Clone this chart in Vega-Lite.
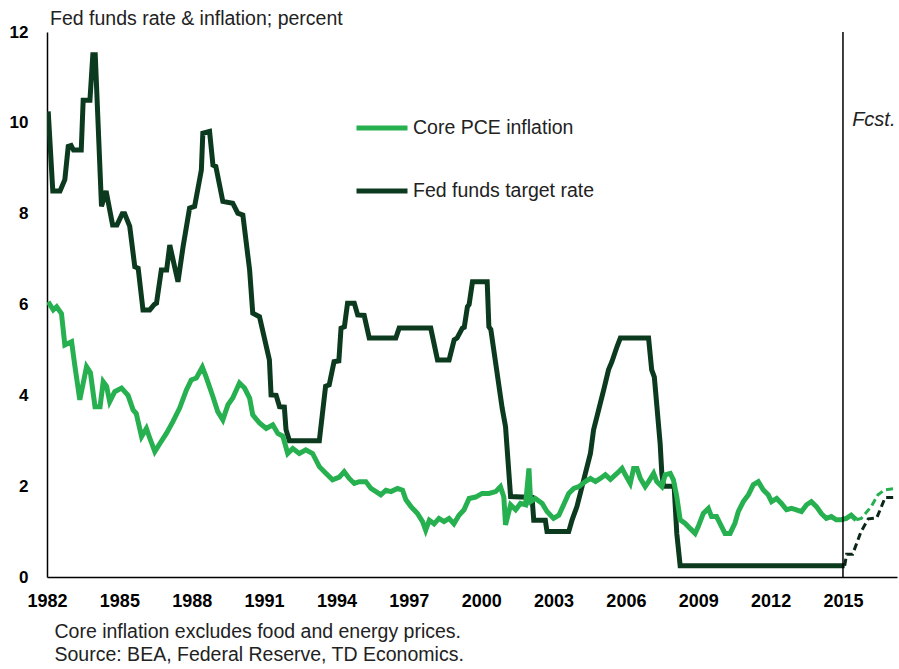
{
  "$schema": "https://vega.github.io/schema/vega-lite/v6.json",
  "width": 850,
  "height": 545,
  "autosize": {"type": "none"},
  "padding": {"left": 47, "top": 32, "right": 2, "bottom": 92},
  "background": "#ffffff",
  "title": {
    "text": "Fed funds rate & inflation; percent",
    "anchor": "start",
    "frame": "group",
    "fontSize": 19.5,
    "fontWeight": "normal",
    "font": "Liberation Sans",
    "color": "#222222",
    "offset": 5,
    "dx": 3,
    "dy": 11
  },
  "datasets": {
    "rates": [
      {"d": 1982.05, "v": 10.25, "s": "Fed funds target rate", "part": "actual"},
      {"d": 1982.24, "v": 8.5, "s": "Fed funds target rate", "part": "actual"},
      {"d": 1982.54, "v": 8.5, "s": "Fed funds target rate", "part": "actual"},
      {"d": 1982.74, "v": 8.75, "s": "Fed funds target rate", "part": "actual"},
      {"d": 1982.88, "v": 9.48, "s": "Fed funds target rate", "part": "actual"},
      {"d": 1983.0, "v": 9.5, "s": "Fed funds target rate", "part": "actual"},
      {"d": 1983.1, "v": 9.4, "s": "Fed funds target rate", "part": "actual"},
      {"d": 1983.42, "v": 9.4, "s": "Fed funds target rate", "part": "actual"},
      {"d": 1983.5, "v": 10.5, "s": "Fed funds target rate", "part": "actual"},
      {"d": 1983.78, "v": 10.5, "s": "Fed funds target rate", "part": "actual"},
      {"d": 1983.9, "v": 11.5, "s": "Fed funds target rate", "part": "actual"},
      {"d": 1984.0, "v": 11.5, "s": "Fed funds target rate", "part": "actual"},
      {"d": 1984.26, "v": 8.16, "s": "Fed funds target rate", "part": "actual"},
      {"d": 1984.45, "v": 8.5, "s": "Fed funds target rate", "part": "actual"},
      {"d": 1984.72, "v": 7.75, "s": "Fed funds target rate", "part": "actual"},
      {"d": 1984.9, "v": 7.75, "s": "Fed funds target rate", "part": "actual"},
      {"d": 1985.12, "v": 8.0, "s": "Fed funds target rate", "part": "actual"},
      {"d": 1985.22, "v": 8.0, "s": "Fed funds target rate", "part": "actual"},
      {"d": 1985.43, "v": 7.72, "s": "Fed funds target rate", "part": "actual"},
      {"d": 1985.64, "v": 6.83, "s": "Fed funds target rate", "part": "actual"},
      {"d": 1985.78, "v": 6.8, "s": "Fed funds target rate", "part": "actual"},
      {"d": 1985.98, "v": 5.88, "s": "Fed funds target rate", "part": "actual"},
      {"d": 1986.26, "v": 5.88, "s": "Fed funds target rate", "part": "actual"},
      {"d": 1986.45, "v": 6.0, "s": "Fed funds target rate", "part": "actual"},
      {"d": 1986.54, "v": 6.03, "s": "Fed funds target rate", "part": "actual"},
      {"d": 1986.74, "v": 6.76, "s": "Fed funds target rate", "part": "actual"},
      {"d": 1986.96, "v": 6.76, "s": "Fed funds target rate", "part": "actual"},
      {"d": 1987.09, "v": 7.31, "s": "Fed funds target rate", "part": "actual"},
      {"d": 1987.43, "v": 6.5, "s": "Fed funds target rate", "part": "actual"},
      {"d": 1987.64, "v": 7.27, "s": "Fed funds target rate", "part": "actual"},
      {"d": 1987.91, "v": 8.12, "s": "Fed funds target rate", "part": "actual"},
      {"d": 1988.12, "v": 8.16, "s": "Fed funds target rate", "part": "actual"},
      {"d": 1988.4, "v": 8.96, "s": "Fed funds target rate", "part": "actual"},
      {"d": 1988.46, "v": 9.77, "s": "Fed funds target rate", "part": "actual"},
      {"d": 1988.74, "v": 9.81, "s": "Fed funds target rate", "part": "actual"},
      {"d": 1988.88, "v": 9.07, "s": "Fed funds target rate", "part": "actual"},
      {"d": 1989.0, "v": 9.04, "s": "Fed funds target rate", "part": "actual"},
      {"d": 1989.29, "v": 8.27, "s": "Fed funds target rate", "part": "actual"},
      {"d": 1989.7, "v": 8.23, "s": "Fed funds target rate", "part": "actual"},
      {"d": 1989.91, "v": 8.01, "s": "Fed funds target rate", "part": "actual"},
      {"d": 1990.12, "v": 7.97, "s": "Fed funds target rate", "part": "actual"},
      {"d": 1990.4, "v": 6.76, "s": "Fed funds target rate", "part": "actual"},
      {"d": 1990.53, "v": 5.81, "s": "Fed funds target rate", "part": "actual"},
      {"d": 1990.81, "v": 5.73, "s": "Fed funds target rate", "part": "actual"},
      {"d": 1991.22, "v": 4.78, "s": "Fed funds target rate", "part": "actual"},
      {"d": 1991.29, "v": 4.01, "s": "Fed funds target rate", "part": "actual"},
      {"d": 1991.5, "v": 4.0, "s": "Fed funds target rate", "part": "actual"},
      {"d": 1991.64, "v": 3.75, "s": "Fed funds target rate", "part": "actual"},
      {"d": 1991.84, "v": 3.74, "s": "Fed funds target rate", "part": "actual"},
      {"d": 1991.91, "v": 3.24, "s": "Fed funds target rate", "part": "actual"},
      {"d": 1992.05, "v": 3.0, "s": "Fed funds target rate", "part": "actual"},
      {"d": 1993.29, "v": 3.0, "s": "Fed funds target rate", "part": "actual"},
      {"d": 1993.55, "v": 4.2, "s": "Fed funds target rate", "part": "actual"},
      {"d": 1993.7, "v": 4.23, "s": "Fed funds target rate", "part": "actual"},
      {"d": 1993.9, "v": 4.74, "s": "Fed funds target rate", "part": "actual"},
      {"d": 1994.1, "v": 4.76, "s": "Fed funds target rate", "part": "actual"},
      {"d": 1994.19, "v": 5.48, "s": "Fed funds target rate", "part": "actual"},
      {"d": 1994.33, "v": 5.51, "s": "Fed funds target rate", "part": "actual"},
      {"d": 1994.46, "v": 6.03, "s": "Fed funds target rate", "part": "actual"},
      {"d": 1994.74, "v": 6.03, "s": "Fed funds target rate", "part": "actual"},
      {"d": 1994.88, "v": 5.77, "s": "Fed funds target rate", "part": "actual"},
      {"d": 1995.15, "v": 5.76, "s": "Fed funds target rate", "part": "actual"},
      {"d": 1995.36, "v": 5.26, "s": "Fed funds target rate", "part": "actual"},
      {"d": 1996.46, "v": 5.26, "s": "Fed funds target rate", "part": "actual"},
      {"d": 1996.6, "v": 5.48, "s": "Fed funds target rate", "part": "actual"},
      {"d": 1997.91, "v": 5.48, "s": "Fed funds target rate", "part": "actual"},
      {"d": 1998.19, "v": 4.78, "s": "Fed funds target rate", "part": "actual"},
      {"d": 1998.67, "v": 4.78, "s": "Fed funds target rate", "part": "actual"},
      {"d": 1998.88, "v": 5.22, "s": "Fed funds target rate", "part": "actual"},
      {"d": 1999.0, "v": 5.26, "s": "Fed funds target rate", "part": "actual"},
      {"d": 1999.22, "v": 5.48, "s": "Fed funds target rate", "part": "actual"},
      {"d": 1999.3, "v": 5.5, "s": "Fed funds target rate", "part": "actual"},
      {"d": 1999.43, "v": 5.95, "s": "Fed funds target rate", "part": "actual"},
      {"d": 1999.5, "v": 6.0, "s": "Fed funds target rate", "part": "actual"},
      {"d": 1999.64, "v": 6.5, "s": "Fed funds target rate", "part": "actual"},
      {"d": 2000.25, "v": 6.5, "s": "Fed funds target rate", "part": "actual"},
      {"d": 2000.32, "v": 5.51, "s": "Fed funds target rate", "part": "actual"},
      {"d": 2000.4, "v": 5.45, "s": "Fed funds target rate", "part": "actual"},
      {"d": 2000.87, "v": 3.72, "s": "Fed funds target rate", "part": "actual"},
      {"d": 2001.01, "v": 3.31, "s": "Fed funds target rate", "part": "actual"},
      {"d": 2001.22, "v": 1.77, "s": "Fed funds target rate", "part": "actual"},
      {"d": 2002.11, "v": 1.75, "s": "Fed funds target rate", "part": "actual"},
      {"d": 2002.18, "v": 1.25, "s": "Fed funds target rate", "part": "actual"},
      {"d": 2002.66, "v": 1.25, "s": "Fed funds target rate", "part": "actual"},
      {"d": 2002.73, "v": 1.0, "s": "Fed funds target rate", "part": "actual"},
      {"d": 2003.63, "v": 1.0, "s": "Fed funds target rate", "part": "actual"},
      {"d": 2003.77, "v": 1.26, "s": "Fed funds target rate", "part": "actual"},
      {"d": 2003.97, "v": 1.55, "s": "Fed funds target rate", "part": "actual"},
      {"d": 2004.11, "v": 1.84, "s": "Fed funds target rate", "part": "actual"},
      {"d": 2004.32, "v": 2.28, "s": "Fed funds target rate", "part": "actual"},
      {"d": 2004.53, "v": 2.72, "s": "Fed funds target rate", "part": "actual"},
      {"d": 2004.66, "v": 3.24, "s": "Fed funds target rate", "part": "actual"},
      {"d": 2004.87, "v": 3.68, "s": "Fed funds target rate", "part": "actual"},
      {"d": 2005.08, "v": 4.12, "s": "Fed funds target rate", "part": "actual"},
      {"d": 2005.28, "v": 4.56, "s": "Fed funds target rate", "part": "actual"},
      {"d": 2005.42, "v": 4.74, "s": "Fed funds target rate", "part": "actual"},
      {"d": 2005.63, "v": 5.07, "s": "Fed funds target rate", "part": "actual"},
      {"d": 2005.77, "v": 5.26, "s": "Fed funds target rate", "part": "actual"},
      {"d": 2006.94, "v": 5.26, "s": "Fed funds target rate", "part": "actual"},
      {"d": 2007.07, "v": 4.56, "s": "Fed funds target rate", "part": "actual"},
      {"d": 2007.18, "v": 4.4, "s": "Fed funds target rate", "part": "actual"},
      {"d": 2007.42, "v": 2.94, "s": "Fed funds target rate", "part": "actual"},
      {"d": 2007.49, "v": 2.28, "s": "Fed funds target rate", "part": "actual"},
      {"d": 2007.56, "v": 2.0, "s": "Fed funds target rate", "part": "actual"},
      {"d": 2008.0, "v": 2.0, "s": "Fed funds target rate", "part": "actual"},
      {"d": 2008.11, "v": 0.96, "s": "Fed funds target rate", "part": "actual"},
      {"d": 2008.25, "v": 0.25, "s": "Fed funds target rate", "part": "actual"},
      {"d": 2015.07, "v": 0.25, "s": "Fed funds target rate", "part": "actual"},
      {"d": 2015.07, "v": 0.25, "s": "Fed funds target rate", "part": "forecast"},
      {"d": 2015.15, "v": 0.5, "s": "Fed funds target rate", "part": "forecast"},
      {"d": 2015.4, "v": 0.5, "s": "Fed funds target rate", "part": "forecast"},
      {"d": 2015.75, "v": 1.0, "s": "Fed funds target rate", "part": "forecast"},
      {"d": 2016.05, "v": 1.28, "s": "Fed funds target rate", "part": "forecast"},
      {"d": 2016.4, "v": 1.3, "s": "Fed funds target rate", "part": "forecast"},
      {"d": 2016.75, "v": 1.75, "s": "Fed funds target rate", "part": "forecast"},
      {"d": 2017.24, "v": 1.75, "s": "Fed funds target rate", "part": "forecast"},
      {"d": 1982.05, "v": 6.06, "s": "Core PCE inflation", "part": "actual"},
      {"d": 1982.26, "v": 5.88, "s": "Core PCE inflation", "part": "actual"},
      {"d": 1982.4, "v": 5.95, "s": "Core PCE inflation", "part": "actual"},
      {"d": 1982.6, "v": 5.8, "s": "Core PCE inflation", "part": "actual"},
      {"d": 1982.74, "v": 5.11, "s": "Core PCE inflation", "part": "actual"},
      {"d": 1983.02, "v": 5.18, "s": "Core PCE inflation", "part": "actual"},
      {"d": 1983.16, "v": 4.63, "s": "Core PCE inflation", "part": "actual"},
      {"d": 1983.36, "v": 3.9, "s": "Core PCE inflation", "part": "actual"},
      {"d": 1983.64, "v": 4.63, "s": "Core PCE inflation", "part": "actual"},
      {"d": 1983.8, "v": 4.5, "s": "Core PCE inflation", "part": "actual"},
      {"d": 1983.99, "v": 3.75, "s": "Core PCE inflation", "part": "actual"},
      {"d": 1984.2, "v": 3.75, "s": "Core PCE inflation", "part": "actual"},
      {"d": 1984.33, "v": 4.3, "s": "Core PCE inflation", "part": "actual"},
      {"d": 1984.47, "v": 4.2, "s": "Core PCE inflation", "part": "actual"},
      {"d": 1984.6, "v": 3.86, "s": "Core PCE inflation", "part": "actual"},
      {"d": 1984.81, "v": 4.08, "s": "Core PCE inflation", "part": "actual"},
      {"d": 1985.09, "v": 4.16, "s": "Core PCE inflation", "part": "actual"},
      {"d": 1985.36, "v": 4.0, "s": "Core PCE inflation", "part": "actual"},
      {"d": 1985.57, "v": 3.68, "s": "Core PCE inflation", "part": "actual"},
      {"d": 1985.7, "v": 3.6, "s": "Core PCE inflation", "part": "actual"},
      {"d": 1985.92, "v": 3.09, "s": "Core PCE inflation", "part": "actual"},
      {"d": 1986.12, "v": 3.27, "s": "Core PCE inflation", "part": "actual"},
      {"d": 1986.26, "v": 3.06, "s": "Core PCE inflation", "part": "actual"},
      {"d": 1986.47, "v": 2.76, "s": "Core PCE inflation", "part": "actual"},
      {"d": 1986.68, "v": 2.94, "s": "Core PCE inflation", "part": "actual"},
      {"d": 1986.95, "v": 3.16, "s": "Core PCE inflation", "part": "actual"},
      {"d": 1987.22, "v": 3.42, "s": "Core PCE inflation", "part": "actual"},
      {"d": 1987.5, "v": 3.72, "s": "Core PCE inflation", "part": "actual"},
      {"d": 1987.78, "v": 4.12, "s": "Core PCE inflation", "part": "actual"},
      {"d": 1987.98, "v": 4.34, "s": "Core PCE inflation", "part": "actual"},
      {"d": 1988.19, "v": 4.38, "s": "Core PCE inflation", "part": "actual"},
      {"d": 1988.44, "v": 4.62, "s": "Core PCE inflation", "part": "actual"},
      {"d": 1988.6, "v": 4.4, "s": "Core PCE inflation", "part": "actual"},
      {"d": 1988.88, "v": 3.97, "s": "Core PCE inflation", "part": "actual"},
      {"d": 1989.08, "v": 3.64, "s": "Core PCE inflation", "part": "actual"},
      {"d": 1989.29, "v": 3.46, "s": "Core PCE inflation", "part": "actual"},
      {"d": 1989.5, "v": 3.79, "s": "Core PCE inflation", "part": "actual"},
      {"d": 1989.7, "v": 3.94, "s": "Core PCE inflation", "part": "actual"},
      {"d": 1989.98, "v": 4.27, "s": "Core PCE inflation", "part": "actual"},
      {"d": 1990.19, "v": 4.16, "s": "Core PCE inflation", "part": "actual"},
      {"d": 1990.4, "v": 3.94, "s": "Core PCE inflation", "part": "actual"},
      {"d": 1990.53, "v": 3.57, "s": "Core PCE inflation", "part": "actual"},
      {"d": 1990.81, "v": 3.39, "s": "Core PCE inflation", "part": "actual"},
      {"d": 1991.09, "v": 3.27, "s": "Core PCE inflation", "part": "actual"},
      {"d": 1991.36, "v": 3.35, "s": "Core PCE inflation", "part": "actual"},
      {"d": 1991.57, "v": 3.16, "s": "Core PCE inflation", "part": "actual"},
      {"d": 1991.78, "v": 3.1, "s": "Core PCE inflation", "part": "actual"},
      {"d": 1991.98, "v": 2.72, "s": "Core PCE inflation", "part": "actual"},
      {"d": 1992.19, "v": 2.83, "s": "Core PCE inflation", "part": "actual"},
      {"d": 1992.46, "v": 2.72, "s": "Core PCE inflation", "part": "actual"},
      {"d": 1992.73, "v": 2.8, "s": "Core PCE inflation", "part": "actual"},
      {"d": 1993.01, "v": 2.72, "s": "Core PCE inflation", "part": "actual"},
      {"d": 1993.29, "v": 2.43, "s": "Core PCE inflation", "part": "actual"},
      {"d": 1993.57, "v": 2.28, "s": "Core PCE inflation", "part": "actual"},
      {"d": 1993.84, "v": 2.14, "s": "Core PCE inflation", "part": "actual"},
      {"d": 1994.12, "v": 2.2, "s": "Core PCE inflation", "part": "actual"},
      {"d": 1994.32, "v": 2.32, "s": "Core PCE inflation", "part": "actual"},
      {"d": 1994.53, "v": 2.17, "s": "Core PCE inflation", "part": "actual"},
      {"d": 1994.74, "v": 2.06, "s": "Core PCE inflation", "part": "actual"},
      {"d": 1994.95, "v": 2.1, "s": "Core PCE inflation", "part": "actual"},
      {"d": 1995.22, "v": 2.1, "s": "Core PCE inflation", "part": "actual"},
      {"d": 1995.43, "v": 1.95, "s": "Core PCE inflation", "part": "actual"},
      {"d": 1995.64, "v": 1.88, "s": "Core PCE inflation", "part": "actual"},
      {"d": 1995.84, "v": 1.81, "s": "Core PCE inflation", "part": "actual"},
      {"d": 1996.05, "v": 1.91, "s": "Core PCE inflation", "part": "actual"},
      {"d": 1996.26, "v": 1.88, "s": "Core PCE inflation", "part": "actual"},
      {"d": 1996.53, "v": 1.95, "s": "Core PCE inflation", "part": "actual"},
      {"d": 1996.74, "v": 1.91, "s": "Core PCE inflation", "part": "actual"},
      {"d": 1996.88, "v": 1.7, "s": "Core PCE inflation", "part": "actual"},
      {"d": 1997.09, "v": 1.55, "s": "Core PCE inflation", "part": "actual"},
      {"d": 1997.36, "v": 1.4, "s": "Core PCE inflation", "part": "actual"},
      {"d": 1997.57, "v": 1.22, "s": "Core PCE inflation", "part": "actual"},
      {"d": 1997.7, "v": 1.03, "s": "Core PCE inflation", "part": "actual"},
      {"d": 1997.85, "v": 1.25, "s": "Core PCE inflation", "part": "actual"},
      {"d": 1998.05, "v": 1.17, "s": "Core PCE inflation", "part": "actual"},
      {"d": 1998.25, "v": 1.29, "s": "Core PCE inflation", "part": "actual"},
      {"d": 1998.46, "v": 1.22, "s": "Core PCE inflation", "part": "actual"},
      {"d": 1998.67, "v": 1.29, "s": "Core PCE inflation", "part": "actual"},
      {"d": 1998.87, "v": 1.17, "s": "Core PCE inflation", "part": "actual"},
      {"d": 1999.08, "v": 1.36, "s": "Core PCE inflation", "part": "actual"},
      {"d": 1999.29, "v": 1.48, "s": "Core PCE inflation", "part": "actual"},
      {"d": 1999.5, "v": 1.73, "s": "Core PCE inflation", "part": "actual"},
      {"d": 1999.77, "v": 1.76, "s": "Core PCE inflation", "part": "actual"},
      {"d": 2000.04, "v": 1.84, "s": "Core PCE inflation", "part": "actual"},
      {"d": 2000.32, "v": 1.84, "s": "Core PCE inflation", "part": "actual"},
      {"d": 2000.6, "v": 1.88, "s": "Core PCE inflation", "part": "actual"},
      {"d": 2000.8, "v": 1.99, "s": "Core PCE inflation", "part": "actual"},
      {"d": 2000.94, "v": 1.76, "s": "Core PCE inflation", "part": "actual"},
      {"d": 2001.01, "v": 1.15, "s": "Core PCE inflation", "part": "actual"},
      {"d": 2001.22, "v": 1.59, "s": "Core PCE inflation", "part": "actual"},
      {"d": 2001.43, "v": 1.48, "s": "Core PCE inflation", "part": "actual"},
      {"d": 2001.63, "v": 1.62, "s": "Core PCE inflation", "part": "actual"},
      {"d": 2001.84, "v": 1.59, "s": "Core PCE inflation", "part": "actual"},
      {"d": 2001.98, "v": 2.39, "s": "Core PCE inflation", "part": "actual"},
      {"d": 2002.05, "v": 1.66, "s": "Core PCE inflation", "part": "actual"},
      {"d": 2002.25, "v": 1.73, "s": "Core PCE inflation", "part": "actual"},
      {"d": 2002.53, "v": 1.62, "s": "Core PCE inflation", "part": "actual"},
      {"d": 2002.73, "v": 1.44, "s": "Core PCE inflation", "part": "actual"},
      {"d": 2003.0, "v": 1.29, "s": "Core PCE inflation", "part": "actual"},
      {"d": 2003.22, "v": 1.36, "s": "Core PCE inflation", "part": "actual"},
      {"d": 2003.42, "v": 1.59, "s": "Core PCE inflation", "part": "actual"},
      {"d": 2003.63, "v": 1.84, "s": "Core PCE inflation", "part": "actual"},
      {"d": 2003.84, "v": 1.95, "s": "Core PCE inflation", "part": "actual"},
      {"d": 2004.05, "v": 1.99, "s": "Core PCE inflation", "part": "actual"},
      {"d": 2004.32, "v": 2.1, "s": "Core PCE inflation", "part": "actual"},
      {"d": 2004.53, "v": 2.17, "s": "Core PCE inflation", "part": "actual"},
      {"d": 2004.74, "v": 2.1, "s": "Core PCE inflation", "part": "actual"},
      {"d": 2004.94, "v": 2.17, "s": "Core PCE inflation", "part": "actual"},
      {"d": 2005.15, "v": 2.25, "s": "Core PCE inflation", "part": "actual"},
      {"d": 2005.36, "v": 2.15, "s": "Core PCE inflation", "part": "actual"},
      {"d": 2005.63, "v": 2.28, "s": "Core PCE inflation", "part": "actual"},
      {"d": 2005.84, "v": 2.39, "s": "Core PCE inflation", "part": "actual"},
      {"d": 2005.98, "v": 2.25, "s": "Core PCE inflation", "part": "actual"},
      {"d": 2006.18, "v": 2.06, "s": "Core PCE inflation", "part": "actual"},
      {"d": 2006.32, "v": 2.39, "s": "Core PCE inflation", "part": "actual"},
      {"d": 2006.46, "v": 2.39, "s": "Core PCE inflation", "part": "actual"},
      {"d": 2006.6, "v": 2.17, "s": "Core PCE inflation", "part": "actual"},
      {"d": 2006.8, "v": 1.99, "s": "Core PCE inflation", "part": "actual"},
      {"d": 2006.94, "v": 2.1, "s": "Core PCE inflation", "part": "actual"},
      {"d": 2007.15, "v": 2.28, "s": "Core PCE inflation", "part": "actual"},
      {"d": 2007.28, "v": 2.1, "s": "Core PCE inflation", "part": "actual"},
      {"d": 2007.49, "v": 1.99, "s": "Core PCE inflation", "part": "actual"},
      {"d": 2007.63, "v": 2.25, "s": "Core PCE inflation", "part": "actual"},
      {"d": 2007.84, "v": 2.28, "s": "Core PCE inflation", "part": "actual"},
      {"d": 2007.97, "v": 2.14, "s": "Core PCE inflation", "part": "actual"},
      {"d": 2008.11, "v": 1.77, "s": "Core PCE inflation", "part": "actual"},
      {"d": 2008.25, "v": 1.26, "s": "Core PCE inflation", "part": "actual"},
      {"d": 2008.46, "v": 1.18, "s": "Core PCE inflation", "part": "actual"},
      {"d": 2008.66, "v": 1.07, "s": "Core PCE inflation", "part": "actual"},
      {"d": 2008.87, "v": 0.96, "s": "Core PCE inflation", "part": "actual"},
      {"d": 2009.0, "v": 1.11, "s": "Core PCE inflation", "part": "actual"},
      {"d": 2009.21, "v": 1.4, "s": "Core PCE inflation", "part": "actual"},
      {"d": 2009.42, "v": 1.51, "s": "Core PCE inflation", "part": "actual"},
      {"d": 2009.55, "v": 1.33, "s": "Core PCE inflation", "part": "actual"},
      {"d": 2009.76, "v": 1.33, "s": "Core PCE inflation", "part": "actual"},
      {"d": 2009.9, "v": 1.18, "s": "Core PCE inflation", "part": "actual"},
      {"d": 2010.11, "v": 0.96, "s": "Core PCE inflation", "part": "actual"},
      {"d": 2010.32, "v": 0.96, "s": "Core PCE inflation", "part": "actual"},
      {"d": 2010.52, "v": 1.18, "s": "Core PCE inflation", "part": "actual"},
      {"d": 2010.66, "v": 1.44, "s": "Core PCE inflation", "part": "actual"},
      {"d": 2010.87, "v": 1.66, "s": "Core PCE inflation", "part": "actual"},
      {"d": 2011.08, "v": 1.81, "s": "Core PCE inflation", "part": "actual"},
      {"d": 2011.28, "v": 2.03, "s": "Core PCE inflation", "part": "actual"},
      {"d": 2011.49, "v": 2.1, "s": "Core PCE inflation", "part": "actual"},
      {"d": 2011.69, "v": 1.92, "s": "Core PCE inflation", "part": "actual"},
      {"d": 2011.9, "v": 1.81, "s": "Core PCE inflation", "part": "actual"},
      {"d": 2012.04, "v": 1.66, "s": "Core PCE inflation", "part": "actual"},
      {"d": 2012.25, "v": 1.73, "s": "Core PCE inflation", "part": "actual"},
      {"d": 2012.45, "v": 1.62, "s": "Core PCE inflation", "part": "actual"},
      {"d": 2012.66, "v": 1.48, "s": "Core PCE inflation", "part": "actual"},
      {"d": 2012.87, "v": 1.51, "s": "Core PCE inflation", "part": "actual"},
      {"d": 2013.07, "v": 1.48, "s": "Core PCE inflation", "part": "actual"},
      {"d": 2013.28, "v": 1.44, "s": "Core PCE inflation", "part": "actual"},
      {"d": 2013.49, "v": 1.59, "s": "Core PCE inflation", "part": "actual"},
      {"d": 2013.69, "v": 1.66, "s": "Core PCE inflation", "part": "actual"},
      {"d": 2013.9, "v": 1.55, "s": "Core PCE inflation", "part": "actual"},
      {"d": 2014.1, "v": 1.4, "s": "Core PCE inflation", "part": "actual"},
      {"d": 2014.31, "v": 1.29, "s": "Core PCE inflation", "part": "actual"},
      {"d": 2014.52, "v": 1.33, "s": "Core PCE inflation", "part": "actual"},
      {"d": 2014.72, "v": 1.26, "s": "Core PCE inflation", "part": "actual"},
      {"d": 2014.93, "v": 1.26, "s": "Core PCE inflation", "part": "actual"},
      {"d": 2015.14, "v": 1.29, "s": "Core PCE inflation", "part": "actual"},
      {"d": 2015.34, "v": 1.36, "s": "Core PCE inflation", "part": "actual"},
      {"d": 2015.55, "v": 1.26, "s": "Core PCE inflation", "part": "actual"},
      {"d": 2015.55, "v": 1.26, "s": "Core PCE inflation", "part": "forecast"},
      {"d": 2015.76, "v": 1.29, "s": "Core PCE inflation", "part": "forecast"},
      {"d": 2016.17, "v": 1.55, "s": "Core PCE inflation", "part": "forecast"},
      {"d": 2016.45, "v": 1.81, "s": "Core PCE inflation", "part": "forecast"},
      {"d": 2016.73, "v": 1.92, "s": "Core PCE inflation", "part": "forecast"},
      {"d": 2017.2, "v": 1.95, "s": "Core PCE inflation", "part": "forecast"}
    ],
    "marker": [{"d": 2015, "label": "Fcst.", "v": 10.07, "labelAt": 2015.38}]
  },
  "layer": [
    {
      "data": {"name": "rates"},
      "transform": [{"filter": "datum.part === 'actual'"}],
      "mark": {"type": "line", "strokeWidth": 5, "clip": true},
      "encoding": {
        "x": {
          "field": "d",
          "type": "quantitative",
          "scale": {"domain": [1982, 2017.24], "nice": false, "zero": false},
          "axis": {
            "values": [1982, 1985, 1988, 1991, 1994, 1997, 2000, 2003, 2006, 2009, 2012, 2015],
            "format": "d",
            "labelFlush": false,
            "title": ["Core inflation excludes food and energy prices.", "Source: BEA, Federal Reserve, TD Economics."]
          }
        },
        "y": {
          "field": "v",
          "type": "quantitative",
          "scale": {"domain": [0, 12], "nice": false},
          "axis": {"values": [0, 2, 4, 6, 8, 10, 12], "title": null}
        },
        "color": {
          "field": "s",
          "type": "nominal",
          "scale": {"domain": ["Core PCE inflation", "Fed funds target rate"], "range": ["#26b04f", "#0c3a1e"]},
          "legend": {
            "orient": "none",
            "legendX": 307,
            "legendY": 68,
            "title": null,
            "symbolType": "stroke",
            "symbolSize": 2601,
            "symbolStrokeWidth": 5,
            "labelFontSize": 19.5,
            "labelFont": "Liberation Sans",
            "labelColor": "#222222",
            "labelOffset": 3,
            "labelLimit": 400,
            "rowPadding": 25,
            "padding": 0
          }
        }
      }
    },
    {
      "data": {"name": "rates"},
      "transform": [{"filter": "datum.part === 'forecast' && datum.s === 'Core PCE inflation'"}],
      "mark": {"type": "line", "strokeWidth": 3, "strokeDash": [7, 4], "color": "#26b04f"},
      "encoding": {
        "x": {"field": "d", "type": "quantitative"},
        "y": {"field": "v", "type": "quantitative"}
      }
    },
    {
      "data": {"name": "rates"},
      "transform": [{"filter": "datum.part === 'forecast' && datum.s === 'Fed funds target rate'"}],
      "mark": {"type": "line", "strokeWidth": 3, "strokeDash": [7, 4], "color": "#0a2616"},
      "encoding": {
        "x": {"field": "d", "type": "quantitative"},
        "y": {"field": "v", "type": "quantitative"}
      }
    },
    {
      "data": {"name": "marker"},
      "mark": {"type": "rule", "color": "#000000", "strokeWidth": 1.5},
      "encoding": {
        "x": {"field": "d", "type": "quantitative"}
      }
    },
    {
      "data": {"name": "marker"},
      "mark": {"type": "text", "align": "left", "baseline": "middle", "fontStyle": "italic", "fontSize": 20, "font": "Liberation Sans", "color": "#222222"},
      "encoding": {
        "x": {"field": "labelAt", "type": "quantitative"},
        "y": {"field": "v", "type": "quantitative"},
        "text": {"field": "label"}
      }
    }
  ],
  "config": {
    "view": {"stroke": null},
    "font": "Liberation Sans",
    "axis": {
      "grid": false,
      "ticks": false,
      "domainColor": "#000000",
      "domainWidth": 1.5,
      "labelFont": "Liberation Sans",
      "labelFontWeight": "bold",
      "labelColor": "#000000"
    },
    "axisX": {
      "labelFontSize": 18,
      "labelPadding": 15,
      "titleFont": "Liberation Sans",
      "titleFontSize": 19.5,
      "titleFontWeight": "normal",
      "titleColor": "#222222",
      "titleAnchor": "start",
      "titleAlign": "left",
      "titleBaseline": "top",
      "titleX": 7,
      "titleY": 45,
      "titleLineHeight": 23
    },
    "axisY": {
      "labelFontSize": 17,
      "labelPadding": 19
    }
  }
}
